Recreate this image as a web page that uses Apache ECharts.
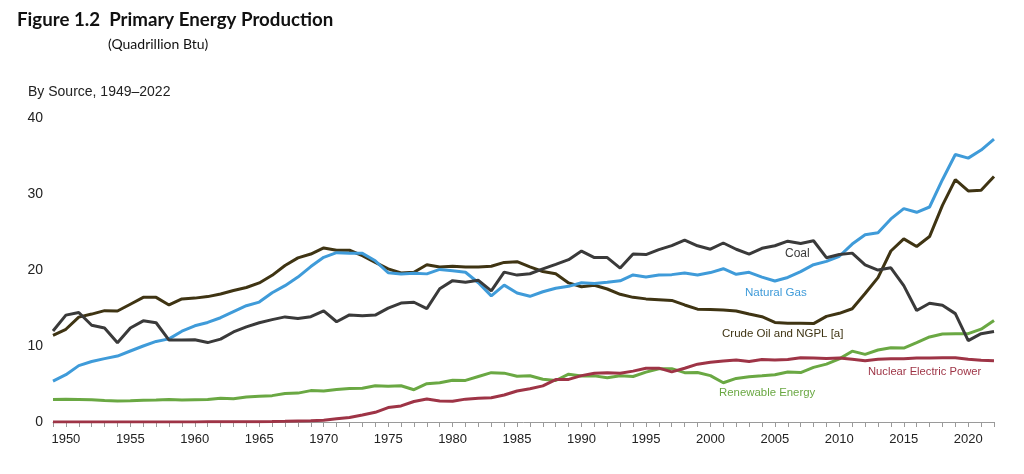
<!DOCTYPE html>
<html>
<head>
<meta charset="utf-8">
<script src="https://cdn.jsdelivr.net/npm/echarts@6/dist/echarts.min.js"></script>
<style>html,body{margin:0;padding:0;background:#fff}#c{width:1024px;height:474px}</style>
</head>
<body>
<div id="c"></div>
<script>
const years = [
1949,1950,1951,1952,1953,1954,1955,1956,1957,1958,
1959,1960,1961,1962,1963,1964,1965,1966,1967,1968,
1969,1970,1971,1972,1973,1974,1975,1976,1977,1978,
1979,1980,1981,1982,1983,1984,1985,1986,1987,1988,
1989,1990,1991,1992,1993,1994,1995,1996,1997,1998,
1999,2000,2001,2002,2003,2004,2005,2006,2007,2008,
2009,2010,2011,2012,2013,2014,2015,2016,2017,2018,
2019,2020,2021,2022];

const coal = [
11.97,14.06,14.41,12.73,12.37,10.43,12.37,13.31,13.06,10.78,
10.80,10.82,10.45,10.90,11.85,12.52,13.06,13.47,13.83,13.61,
13.86,14.61,13.19,14.09,13.99,14.07,14.99,15.65,15.76,14.91,
17.54,18.60,18.38,18.64,17.25,19.72,19.33,19.51,20.14,20.74,
21.36,22.49,21.64,21.63,20.25,22.11,22.03,22.68,23.21,23.94,
23.19,22.74,23.55,22.73,22.09,22.85,23.19,23.79,23.49,23.85,
21.62,22.04,22.22,20.68,19.99,20.29,17.95,14.67,15.63,15.36,
14.26,10.70,11.62,11.92];

const naturalGas = [
5.38,6.23,7.42,7.96,8.34,8.68,9.34,10.00,10.60,10.94,
11.95,12.66,13.10,13.72,14.51,15.30,15.78,17.01,17.94,19.07,
20.45,21.67,22.28,22.21,22.19,21.21,19.64,19.48,19.57,19.49,
20.08,19.91,19.70,18.32,16.59,18.01,16.98,16.54,17.14,17.60,
17.85,18.33,18.23,18.38,18.58,19.35,19.08,19.34,19.39,19.61,
19.34,19.66,20.17,19.44,19.69,19.07,18.56,19.02,19.79,20.70,
21.14,21.81,23.41,24.63,24.89,26.72,28.07,27.59,28.29,31.88,
35.19,34.72,35.78,37.23];

const crudeOilNGPL = [
11.4,12.2,13.8,14.2,14.65,14.6,15.5,16.4,16.4,15.4,
16.2,16.3,16.5,16.85,17.3,17.7,18.3,19.3,20.6,21.6,
22.1,22.9,22.6,22.6,21.9,21.0,20.15,19.6,19.7,20.7,
20.4,20.5,20.4,20.4,20.5,21.0,21.1,20.4,19.8,19.5,
18.3,17.8,18.0,17.5,16.8,16.4,16.2,16.1,16.0,15.4,
14.85,14.8,14.75,14.6,14.2,13.85,13.1,13.0,13.0,12.95,
13.9,14.3,14.9,16.9,19.0,22.5,24.1,23.1,24.4,28.5,
31.9,30.4,30.5,32.3];

const nuclear = [
0,0,0,0,0,0,0,0,0.002,0.002,
0.002,0.006,0.02,0.026,0.038,0.04,0.043,0.064,0.088,0.142,
0.154,0.239,0.413,0.584,0.91,1.272,1.9,2.111,2.702,3.024,
2.776,2.739,3.008,3.131,3.203,3.553,4.076,4.38,4.754,5.587,
5.602,6.104,6.422,6.479,6.41,6.694,7.075,7.087,6.597,7.068,
7.61,7.862,8.029,8.145,7.959,8.222,8.161,8.215,8.459,8.426,
8.356,8.434,8.269,8.062,8.244,8.338,8.337,8.427,8.419,8.438,
8.452,8.251,8.131,8.06];

const renewable = [
2.97,2.98,2.96,2.94,2.83,2.75,2.78,2.87,2.89,2.97,
2.90,2.93,2.95,3.13,3.07,3.29,3.40,3.47,3.75,3.80,
4.13,4.08,4.27,4.40,4.43,4.77,4.72,4.77,4.25,5.04,
5.17,5.49,5.47,5.99,6.49,6.43,6.03,6.08,5.62,5.46,
6.29,6.04,6.07,5.82,6.08,5.99,6.56,7.01,7.02,6.49,
6.52,6.10,5.16,5.73,5.95,6.07,6.22,6.59,6.51,7.19,
7.62,8.31,9.32,8.90,9.47,9.76,9.73,10.43,11.19,11.57,
11.61,11.62,12.21,13.37];

const yTicks = [0, 10, 20, 30, 40];

const seriesNames = ['Renewable Energy','Nuclear Electric Power','Crude Oil and NGPL [a]','Natural Gas','Coal'];
const seriesData = [renewable, nuclear, crudeOilNGPL, naturalGas, coal];
const seriesColors = ['#6aa843','#9e3446','#3f3413','#3f9bd9','#3a3a3a'];

const chart = echarts.init(document.getElementById('c'), null, {renderer:'canvas'});
const axisFont = 'Liberation Sans, Arial, sans-serif';

chart.setOption({
  animation: false,
  backgroundColor: '#ffffff',
  grid: {left: 53, right: 30, top: 118, bottom: 52, containLabel: false},
  xAxis: {
    type: 'category',
    data: years,
    boundaryGap: false,
    axisLine: {show: true, lineStyle: {color: '#9a9a9a', width: 1}},
    axisTick: {show: true, interval: 0, length: 5, lineStyle: {color: '#9a9a9a'}},
    axisLabel: {
      interval: (i, v) => Number(v) % 5 === 0,
      color: '#222', fontSize: 13, fontFamily: axisFont, margin: 11
    },
    splitLine: {show: false}
  },
  yAxis: {
    type: 'value',
    min: yTicks[0], max: yTicks[yTicks.length-1], interval: 10,
    axisLine: {show: false},
    axisTick: {show: false},
    axisLabel: {color: '#222', fontSize: 14, fontFamily: axisFont, margin: 10},
    splitLine: {show: false}
  },
  series: seriesNames.map((n, i) => ({
    name: n,
    type: 'line',
    data: seriesData[i],
    showSymbol: false,
    symbol: 'none',
    lineStyle: {color: seriesColors[i], width: 3},
    z: 2 + i
  })),
  graphic: [
    {type:'text', left: 17, top: 10, style:{text:'Figure 1.2  Primary Energy Production', font:'bold 18.7px Lato, sans-serif', fill:'#111'}},
    {type:'text', left: 108, top: 37, style:{text:'(Quadrillion Btu)', font:'14px Lato, sans-serif', fill:'#111'}},
    {type:'text', left: 28, top: 85, style:{text:'By Source, 1949\u20132022', font:'14px Liberation Sans, Arial, sans-serif', fill:'#222'}},
    {type:'text', left: 785, top: 248, style:{text:'Coal', font:'12px Liberation Sans, Arial, sans-serif', fill:'#3a3a3a'}},
    {type:'text', left: 745, top: 287, style:{text:'Natural Gas', font:'11.6px Liberation Sans, Arial, sans-serif', fill:'#3f9bd9'}},
    {type:'text', left: 722, top: 328, style:{text:'Crude Oil and NGPL [a]', font:'11.5px Liberation Sans, Arial, sans-serif', fill:'#3f3413'}},
    {type:'text', left: 868, top: 366, style:{text:'Nuclear Electric Power', font:'11.2px Liberation Sans, Arial, sans-serif', fill:'#9e3446'}},
    {type:'text', left: 719, top: 387, style:{text:'Renewable Energy', font:'11.4px Liberation Sans, Arial, sans-serif', fill:'#6aa843'}}
  ]
});
</script>
</body>
</html>
